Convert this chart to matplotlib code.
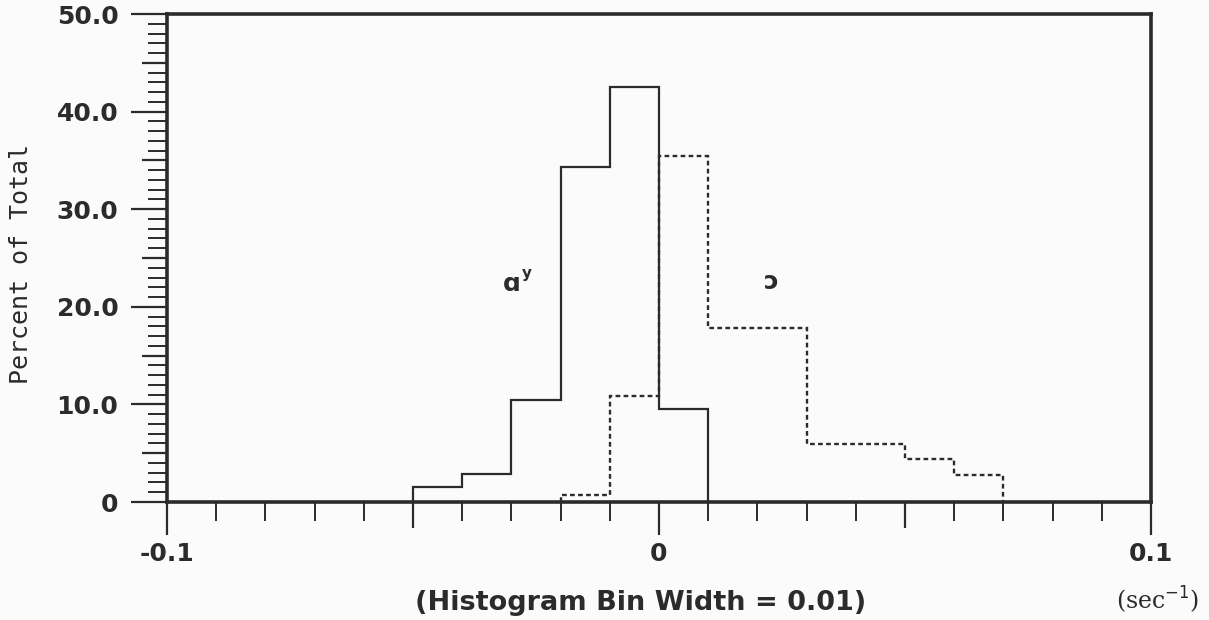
import matplotlib
matplotlib.use("Agg")
import matplotlib.pyplot as plt
import numpy as np

# Histogram bin edges (sec^-1) and percent-of-total values for each series
ay_edges = [-0.05, -0.04, -0.03, -0.02, -0.01, 0.0, 0.01]
ay_percent = [1.5, 2.9, 10.5, 34.3, 42.5, 9.5]

c_edges = [-0.02, -0.01, 0.0, 0.01, 0.02, 0.03, 0.04, 0.05, 0.06, 0.07]
c_percent = [0.75, 10.9, 35.5, 17.8, 17.8, 5.95, 5.95, 4.4, 2.75]

y_ticks = [0, 5, 10, 15, 20, 25, 30, 35, 40, 45, 50]
y_tick_labels = ["0", "", "10.0", "", "20.0", "", "30.0", "", "40.0", "", "50.0"]
x_ticks = [-0.1, -0.05, 0.0, 0.05, 0.1]
x_tick_labels = ["-0.1", "", "0", "", "0.1"]

ink = "#2b2b2b"
bg = "#fbfbfb"

fig = plt.figure(figsize=(12.09, 6.20), dpi=100, facecolor=bg)
ax = fig.add_axes([0.1381, 0.1903, 0.8139, 0.7871], facecolor=bg)

ax.stairs(ay_percent, ay_edges, baseline=0, color=ink, linewidth=1.6)
ax.stairs(c_percent, c_edges, baseline=0, color=ink, linewidth=1.7,
          linestyle=(0, (2.0, 1.4)))

ax.set_xlim(-0.1, 0.1)
ax.set_ylim(0, 50)

for s in ax.spines.values():
    s.set_linewidth(2.6)
    s.set_color(ink)

tick_font = dict(family="DejaVu Sans", weight="bold", size=18, color=ink)

# y axis: long ticks every 10, medium every 5, short every 1
ax.set_yticks(y_ticks)
ax.set_yticklabels(y_tick_labels, fontdict=tick_font)
ax.set_yticks(np.arange(0, 51, 1), minor=True)
ax.tick_params(axis="y", which="major", direction="out", length=26, width=1.6,
               color=ink, pad=9, left=True, right=False)
ax.tick_params(axis="y", which="minor", direction="out", length=14, width=1.4,
               color=ink, left=True, right=False)
for val, tk in zip(y_ticks, ax.yaxis.get_major_ticks()):
    if val % 10 != 0:
        tk.tick1line.set_markersize(18)

# x axis: long ticks at -0.1, 0, 0.1, medium at +/-0.05, short every 0.01
ax.set_xticks(x_ticks)
ax.set_xticklabels(x_tick_labels, fontdict=tick_font)
ax.set_xticks(np.round(np.arange(-0.1, 0.1001, 0.01), 3), minor=True)
ax.tick_params(axis="x", which="major", direction="out", length=24, width=1.6,
               color=ink, pad=5, bottom=True, top=False)
ax.tick_params(axis="x", which="minor", direction="out", length=14, width=1.4,
               color=ink, bottom=True, top=False)
for val, tk in zip(x_ticks, ax.xaxis.get_major_ticks()):
    if abs(val) == 0.05:
        tk.tick1line.set_markersize(19)

# Series labels
ax.text(-0.0300, 22.3, "ɑ", fontsize=18, fontweight="bold", color=ink,
        ha="center", va="center", family="DejaVu Sans")
ax.text(-0.0268, 23.4, "y", fontsize=11, fontweight="bold", color=ink,
        ha="center", va="center", family="DejaVu Sans")
ax.text(0.0228, 22.5, "ɔ", fontsize=18, fontweight="bold", color=ink,
        ha="center", va="center", family="DejaVu Sans")

fig.text(21 / 1209, 1 - 264 / 620, "Percent of Total", rotation=90,
         ha="center", va="center", family="DejaVu Sans Mono", fontsize=18,
         color=ink)
fig.text(641 / 1209, 1 - 603 / 620, "(Histogram Bin Width = 0.01)",
         ha="center", va="center", family="DejaVu Sans", fontweight="bold",
         fontsize=19.5, color=ink)
fig.text(1158 / 1209, 1 - 600 / 620, r"(sec$^{-1}$)",
         ha="center", va="center", family="DejaVu Serif", fontsize=17,
         color=ink)

fig.savefig("out.png", dpi=100, facecolor=bg)
